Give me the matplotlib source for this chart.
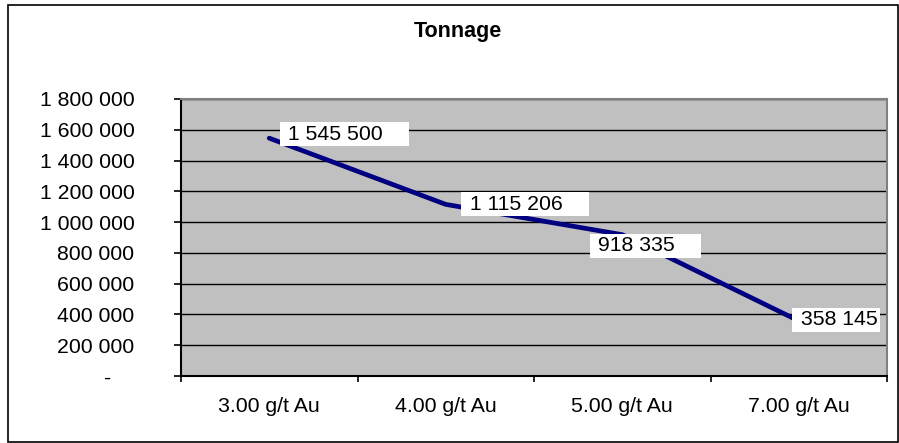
import matplotlib.pyplot as plt
from matplotlib.patches import Rectangle

plt.rcParams['font.family'] = ['Liberation Sans', 'DejaVu Sans']

categories = ["3.00 g/t Au", "4.00 g/t Au", "5.00 g/t Au", "7.00 g/t Au"]
tonnage = [1545500, 1115206, 918335, 358145]
y_ticks = [0, 200000, 400000, 600000, 800000, 1000000, 1200000, 1400000, 1600000, 1800000]

# label offsets in pixels from each point (excel placed them a bit loosely)
label_offsets = [(19, 4), (24, 0), (-24, -11), (2, 1)]
# trailing blank space in each label box (last one hits the plot edge)
label_tails = [4, 4, 4, 0]


def fmt(v):
    if v == 0:
        return "-    "
    return "{:,}".format(v).replace(",", " ")


fig = plt.figure(figsize=(8.99, 4.43), dpi=100)
fig.patches.append(Rectangle((8 / 899, 1 / 443), 890 / 899, 437 / 443,
                             transform=fig.transFigure, fill=False,
                             edgecolor="black", linewidth=1.2))

ax = fig.add_axes([181 / 899, 67 / 443, 706 / 899, 277 / 443])
ax.set_facecolor("#C0C0C0")

x = list(range(len(categories)))
ax.plot(x, tonnage, color="#000080", linewidth=3.4, solid_capstyle="round", zorder=3)

for i, v in enumerate(tonnage):
    dx, dy = label_offsets[i]
    ax.annotate(" " + fmt(v) + " " * label_tails[i], (x[i], v), xytext=(dx - 6, dy),
                textcoords="offset pixels", ha="left", va="center",
                fontsize=15.3, color="black", zorder=4,
                bbox=dict(boxstyle="square,pad=0.12", facecolor="white", edgecolor="none"))

ax.set_ylim(0, 1800000)
ax.set_yticks(y_ticks)
ax.set_yticklabels([fmt(v) for v in y_ticks], fontsize=15.3)
ax.yaxis.grid(True, color="black", linewidth=1.0)
ax.set_axisbelow(True)

ax.set_xlim(-0.5, len(categories) - 0.5)
ax.set_xticks([i - 0.5 for i in range(len(categories) + 1)])
ax.set_xticklabels([])
ax.set_xticks(x, minor=True)
ax.set_xticklabels(categories, minor=True, fontsize=15.3)
ax.tick_params(axis="x", which="minor", length=0, pad=15)
ax.tick_params(axis="x", which="major", length=4, width=1.2, direction="out")
ax.tick_params(axis="y", length=5, width=1.2, direction="out", pad=28.5)

ax.spines["left"].set_color("black")
ax.spines["bottom"].set_color("black")
ax.spines["left"].set_linewidth(1.5)
ax.spines["bottom"].set_linewidth(1.5)
ax.spines["top"].set_color("#808080")
ax.spines["right"].set_color("#808080")
ax.spines["top"].set_linewidth(1.5)
ax.spines["right"].set_linewidth(1.5)

fig.text(458 / 899, 1 - 32 / 443, "Tonnage", ha="center", va="center",
         fontsize=15.5, fontweight="bold")

fig.savefig("out.png", dpi=100)
